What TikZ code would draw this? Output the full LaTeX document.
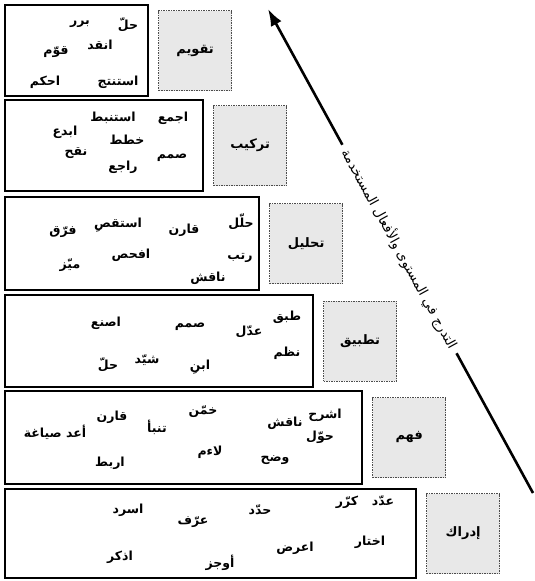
\documentclass[tikz,border=0pt]{standalone}
\usepackage{fontspec}
\newfontfamily\arabicfont[Script=Arabic]{DejaVu Sans}
\TeXXeTstate=1
\usetikzlibrary{positioning,arrows.meta}

\newcommand{\artext}[1]{{\arabicfont\beginR #1\endR}}

\tikzset{
	wordbox/.style={draw=black,line width=2.6pt,inner sep=0pt},
	levelbox/.style={draw=black!70,fill=gray!18,line width=0.7pt,dash pattern=on 1.5pt off 1pt,
		minimum width=73pt,minimum height=80pt,inner sep=0pt,font=\fontsize{13}{15}\selectfont\bfseries},
	verb/.style={inner sep=1pt,font=\fontsize{12.5}{14}\selectfont\bfseries},
	axisline/.style={line width=2.6pt,black},
	axislabel/.style={inner sep=6pt,rotate=-61.3,font=\fontsize{13.5}{15}\selectfont},
}

\begin{document}
\begin{tikzpicture}[x=1pt,y=-1pt]
		
		\useasboundingbox (0,0) rectangle (535,581);
		
		\foreach \i/\r/\t/\b in {1/148/5/96, 2/203/100/191, 3/259/197/290,
			4/313/295/387, 5/362/391/484, 6/416/489/578}
		\node[wordbox,minimum width=\r-5,minimum height=\b-\t] (words\i) at ({(5+\r)/2},{(\t+\b)/2}) {};
		
		\foreach \i/\t in {1/تقويم, 2/تركيب, 3/تحليل, 4/تطبيق, 5/فهم, 6/إدراك}
		\node[levelbox,right=9pt of words\i] (level\i) {\artext{\t}};
		
		
		\foreach \t/\x/\y [count=\n] in {
			حلّ/128/25, برر/80/24, انقد/100/45, قوّم/56/52, استنتج/118/82, احكم/45/82,
			اجمع/173/118, استنبط/113/118, ابدع/65/132, خطط/127/140, صمم/172/158, نقح/76/153, راجع/123/167,
			حلّل/241/222, قارن/184/230, استقصِ/118/225, فرّق/63/232, رتب/240/258, افحص/131/255, ميّز/70/265, ناقش/208/278,
			طبق/287/317, عدّل/249/332, صمم/190/327, اصنع/106/323, نظم/287/353, ابنِ/200/367, شيّد/147/360, حلّ/108/365,
			اشرح/325/415, ناقش/285/423, حوّل/320/437, خمّن/203/412, قارن/112/417, تنبأ/157/427, أعد صياغة/55/432,
			لاءم/210/452, وضح/275/460, اربط/110/463,
			عدّد/383/501, كرّر/347/502, حدّد/260/510, عرّف/193/522, اسرد/128/510, اختار/370/542, اعرض/295/548,
			أوجز/220/563, اذكر/120/557}
		\node[verb] (verb\n) at (\x,\y) {\artext{\t}};
		
		
		\coordinate (arrowtip) at (268,9);
		\coordinate (arrowfoot) at (533,493);
		\node[axislabel] (axis) at (399.5,249) {\artext{التدرج في المستوى والأفعال المستخدمة}};
		\draw[axisline] (arrowfoot) -- (axis);
		\draw[axisline,-{Latex[length=17pt,width=12pt]}] (axis) -- (arrowtip);
		
	\end{tikzpicture}
\end{document}
